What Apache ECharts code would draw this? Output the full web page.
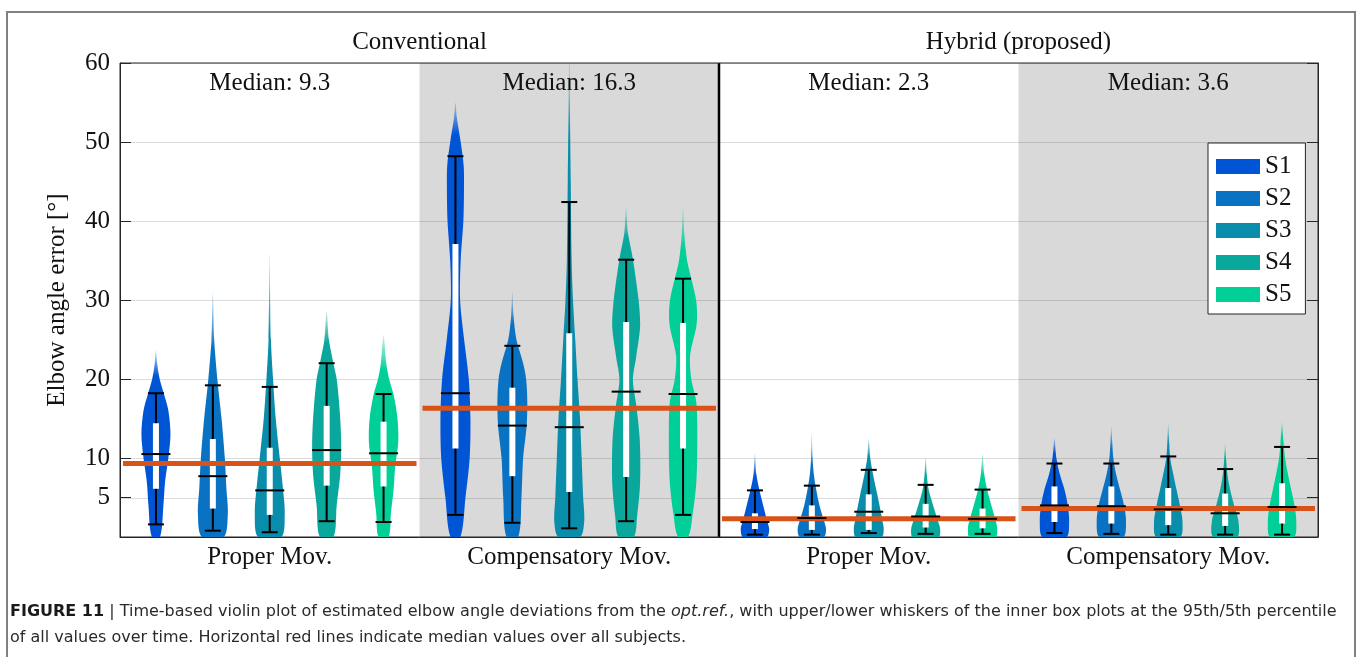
<!DOCTYPE html>
<html>
<head>
<meta charset="utf-8">
<title>Elbow angle error - violin plot</title>
<script src="https://cdn.jsdelivr.net/npm/echarts@6/dist/echarts.min.js"></script>
<style>html, body { margin: 0; padding: 0; background: #fff; }</style>
</head>
<body>
<div id="main" style="width:1358px;height:657px;"></div>
<script type="text/javascript">
// categories along x, and the two methods above them
var groups = ['Proper Mov.', 'Compensatory Mov.', 'Proper Mov.', 'Compensatory Mov.'];
var methods = ['Conventional', 'Hybrid (proposed)'];
var groupMedians = [9.3, 16.3, 2.3, 3.6];
var subjects = ['S1', 'S2', 'S3', 'S4', 'S5'];
var yTicks = [5, 10, 20, 30, 40, 50, 60];

// inner box plot per subject, one row per group: [p5, q1, median, q3, p95]
var statsS1 = [[1.6, 6.1, 10.5, 14.4, 18.2], [2.8, 11.2, 18.2, 37.1, 48.2], [0.3, 1.0, 1.9, 3.0, 5.9], [0.5, 1.9, 4.0, 6.4, 9.3]];
var statsS2 = [[0.8, 3.6, 7.7, 12.4, 19.2], [1.8, 7.7, 14.1, 18.9, 24.2], [0.3, 0.9, 2.4, 4.0, 6.5], [0.4, 1.7, 3.9, 6.4, 9.3]];
var statsS3 = [[0.6, 2.8, 5.9, 11.3, 19.0], [1.1, 5.7, 13.9, 25.8, 42.4], [0.5, 0.9, 3.2, 5.4, 8.5], [0.3, 1.5, 3.5, 6.2, 10.2]];
var statsS4 = [[2.0, 6.5, 11.0, 16.6, 22.0], [2.0, 7.6, 18.4, 27.2, 35.1], [0.4, 1.2, 2.6, 4.2, 6.6], [0.3, 1.4, 3.0, 5.5, 8.6]];
var statsS5 = [[1.9, 6.4, 10.6, 14.6, 18.1], [2.8, 11.2, 18.1, 27.1, 32.7], [0.4, 1.1, 2.3, 3.6, 6.0], [0.3, 1.7, 3.8, 6.8, 11.4]];

// violin outline per subject and group: [value, relative density]
var shapeS1 = [
    [[0, .27], [4, .5], [7, .61], [10, .83], [13, .97], [16, .83], [18, .55], [20, .25], [22, .08], [23.7, 0]],
    [[0, .33], [5, .67], [10, .95], [15, 1], [20, .89], [25, .58], [30, .31], [35, .35], [40, .53], [44, .57], [47, .55], [50, .35], [53, .1], [55, 0]],
    [[0, .8], [1, .95], [2, .82], [4, .55], [6, .29], [8, .09], [10.6, 0]],
    [[0, .8], [2, .98], [4, .89], [6, .67], [8, .35], [10, .13], [12.5, 0]]
];
var shapeS2 = [
    [[0, .73], [3, 1], [6, .91], [10, .8], [15, .58], [20, .3], [25, .09], [31, 0]],
    [[0, .39], [5, .61], [10, .72], [14, .95], [17, 1], [20, .92], [22, .72], [25, .27], [28, .08], [31, 0]],
    [[0, .8], [1, .95], [2, .82], [4, .51], [6, .29], [8, .13], [10, .05], [13.3, 0]],
    [[0, .8], [2, .98], [4, .85], [6, .58], [8, .31], [10, .13], [12, .06], [14, 0]]
];
var shapeS3 = [
    [[0, .78], [3, 1], [6, .89], [10, .67], [15, .4], [20, .22], [25, .08], [36, 0]],
    [[0, .72], [2, 1], [5, .93], [10, .83], [15, .72], [20, .55], [25, .4], [30, .25], [35, .16], [45, .1], [55, .04], [62, 0]],
    [[0, .87], [1, 1], [2, .92], [4, .72], [6, .5], [8, .28], [10, .1], [12.5, 0]],
    [[0, .8], [2, .95], [4, .78], [6, .55], [8, .33], [10, .13], [12, .06], [14.4, 0]]
];
var shapeS4 = [
    [[0, .45], [4, .67], [8, .91], [12, .97], [16, .87], [20, .67], [22, .45], [25, .15], [28.6, 0]],
    [[0, .5], [2.6, .73], [6.8, .93], [12.3, .91], [16.5, .69], [19.9, .45], [22.8, .67], [26.6, .93], [30, .83], [35.2, .45], [38.5, .12], [41.8, 0]],
    [[0, .87], [1, .97], [2, .83], [4, .5], [6, .2], [8, .07], [10.2, 0]],
    [[0, .8], [2, .89], [4, .6], [6, .33], [8, .15], [10, .06], [11.9, 0]]
];
var shapeS5 = [
    [[0, .33], [3, .49], [6, .67], [9, .78], [12, .98], [15, .93], [18, .67], [20, .37], [22, .18], [25.6, 0]],
    [[0, .33], [3, .65], [7, .89], [12, .95], [17, .89], [20, .55], [23, .47], [27, .91], [30, .87], [35, .27], [38.5, .08], [41.8, 0]],
    [[0, .87], [1, .98], [2, .89], [4, .59], [6, .3], [8, .11], [10.6, 0]],
    [[0, .8], [2, .95], [4, .83], [6, .61], [8, .39], [10, .2], [12, .1], [14.6, 0]]
];

var statsBySubject = [statsS1, statsS2, statsS3, statsS4, statsS5];
var shapesBySubject = [shapeS1, shapeS2, shapeS3, shapeS4, shapeS5];
var colors = ['#0055d4', '#0a72c2', '#0a8dab', '#0aa89c', '#00cf98'];
var SERIF = '"Liberation Serif", "DejaVu Serif", serif';
var SANS = '"DejaVu Sans", "Liberation Sans", sans-serif';

// x centre of one violin inside its group band
function violinX(api, gi, si) {
    var band = api.size([1, 0])[0];
    return api.coord([gi, 0])[0] + (si - 2) * 0.19 * band;
}

function fade(hex, a) {
    var n = parseInt(hex.slice(1), 16);
    return 'rgba(' + (n >> 16) + ',' + ((n >> 8) & 255) + ',' + (n & 255) + ',' + a + ')';
}

function violinSeries(si) {
    return {
        name: subjects[si],
        type: 'custom',
        clip: true,
        z: 2,
        itemStyle: { color: colors[si] },
        data: groups.map(function (g, gi) { return [gi].concat(statsBySubject[si][gi]); }),
        encode: { x: 0, y: [1, 2, 3, 4, 5] },
        renderItem: function (params, api) {
            var gi = api.value(0);
            var cx = violinX(api, gi, si);
            var hw = 0.05 * api.size([1, 0])[0];
            var prof = shapesBySubject[si][gi];
            var pts = [], k;
            for (k = 0; k < prof.length; k++) {
                pts.push([cx + prof[k][1] * hw, api.coord([gi, prof[k][0]])[1]]);
            }
            for (k = prof.length - 2; k >= 0; k--) {
                pts.push([cx - prof[k][1] * hw, api.coord([gi, prof[k][0]])[1]]);
            }
            var y5 = api.coord([gi, api.value(1)])[1];
            var yq1 = api.coord([gi, api.value(2)])[1];
            var yq3 = api.coord([gi, api.value(4)])[1];
            var y95 = api.coord([gi, api.value(5)])[1];
            var yTop = api.coord([gi, prof[prof.length - 1][0]])[1];
            var fill = new echarts.graphic.LinearGradient(0, y95, 0, yTop, [
                { offset: 0, color: colors[si] },
                { offset: 0.4, color: colors[si] },
                { offset: 1, color: fade(colors[si], 0.2) }
            ], true);
            return {
                type: 'group',
                children: [
                    { type: 'polygon', shape: { points: pts, smooth: 0.3 }, style: { fill: fill } },
                    { type: 'line', shape: { x1: cx, y1: y5, x2: cx, y2: y95 }, style: { stroke: '#000', lineWidth: 2 } },
                    { type: 'rect', shape: { x: cx - 3, y: yq3, width: 6, height: yq1 - yq3 }, style: { fill: '#fff' } }
                ]
            };
        }
    };
}

// whisker caps and median bars of all violins
var whiskerData = [];
statsBySubject.forEach(function (rows, si) {
    rows.forEach(function (r, gi) { whiskerData.push([gi, si, r[0], r[2], r[4]]); });
});

var series = subjects.map(function (s, si) { return violinSeries(si); });

// grey shading of the compensatory groups + divider between methods
series.push({
    type: 'custom',
    z: -3,
    silent: true,
    data: groups.map(function (g, gi) { return [gi]; }),
    encode: { x: 0 },
    renderItem: function (params, api) {
        var gi = api.value(0);
        var cs = params.coordSys;
        var band = api.size([1, 0])[0];
        var x0 = api.coord([gi, 0])[0] - band / 2;
        var kids = [];
        if (gi % 2 === 1) {
            kids.push({ type: 'rect', shape: { x: x0, y: cs.y, width: band, height: cs.height }, style: { fill: '#d9d9d9' } });
        }
        if (gi === groups.length / methods.length - 1) {
            kids.push({ type: 'line', z2: 5, shape: { x1: x0 + band, y1: cs.y, x2: x0 + band, y2: cs.y + cs.height }, style: { stroke: '#000', lineWidth: 2.5 } });
        }
        return { type: 'group', children: kids };
    }
});

// horizontal grid lines
series.push({
    type: 'custom',
    z: -2,
    silent: true,
    data: yTicks.map(function (v) { return [0, v]; }),
    encode: { x: 0, y: 1 },
    renderItem: function (params, api) {
        var cs = params.coordSys;
        var y = Math.round(api.coord([0, api.value(1)])[1]) + 0.5;
        return { type: 'line', shape: { x1: cs.x, y1: y, x2: cs.x + cs.width, y2: y }, style: { stroke: 'rgba(38,38,38,0.16)', lineWidth: 1 } };
    }
});

// red overall medians + labels
series.push({
    type: 'custom',
    z: 3,
    silent: true,
    data: groupMedians.map(function (m, gi) { return [gi, m]; }),
    encode: { x: 0, y: 1 },
    renderItem: function (params, api) {
        var gi = api.value(0);
        var band = api.size([1, 0])[0];
        var p = api.coord([gi, api.value(1)]);
        var top = api.coord([gi, 60])[1];
        return {
            type: 'group',
            children: [
                { type: 'rect', shape: { x: p[0] - band / 2 + 3, y: p[1] - 2.5, width: band - 6, height: 5 }, style: { fill: '#d95319' } },
                { type: 'text', style: { text: 'Median: ' + api.value(1), x: p[0], y: top + 20, align: 'center', verticalAlign: 'middle', font: '25px ' + SERIF, fill: '#111' } }
            ]
        };
    }
});

series.push({
    type: 'custom',
    z: 4,
    silent: true,
    data: whiskerData,
    encode: { x: 0, y: [2, 3, 4] },
    renderItem: function (params, api) {
        var gi = api.value(0), si = api.value(1);
        var cx = violinX(api, gi, si);
        var y5 = api.coord([gi, api.value(2)])[1];
        var ym = api.coord([gi, api.value(3)])[1];
        var y95 = api.coord([gi, api.value(4)])[1];
        var st = { stroke: '#000', lineWidth: 2 };
        return {
            type: 'group',
            children: [
                { type: 'line', shape: { x1: cx - 8, y1: y5, x2: cx + 8, y2: y5 }, style: st },
                { type: 'line', shape: { x1: cx - 8, y1: y95, x2: cx + 8, y2: y95 }, style: st },
                { type: 'line', shape: { x1: cx - 14.5, y1: ym, x2: cx + 14.5, y2: ym }, style: st }
            ]
        };
    }
});

var myChart = echarts.init(document.getElementById('main'));

var option = {
    animation: false,
    backgroundColor: '#fff',
    grid: { left: 120, right: 40, top: 63, bottom: 120, show: true, borderColor: '#262626', borderWidth: 1, backgroundColor: 'transparent' },
    legend: {
        data: subjects,
        orient: 'vertical',
        left: 1208,
        top: 143,
        icon: 'rect',
        itemWidth: 44,
        itemHeight: 15,
        itemGap: 7,
        padding: [11, 14, 7, 8],
        backgroundColor: '#fff',
        borderColor: '#262626',
        borderWidth: 1,
        borderRadius: 0,
        selectedMode: false,
        textStyle: { fontFamily: SERIF, fontSize: 25, color: '#111' }
    },
    xAxis: [{
        type: 'category',
        data: groups,
        axisLine: { lineStyle: { color: '#262626', width: 1 } },
        axisTick: { show: false },
        axisLabel: { interval: 0, margin: 8, fontFamily: SERIF, fontSize: 25, color: '#111' }
    }, {
        type: 'category',
        position: 'top',
        data: methods,
        axisLine: { show: false },
        axisTick: { show: false },
        axisLabel: { interval: 0, margin: 8, fontFamily: SERIF, fontSize: 25, color: '#111' }
    }],
    yAxis: [{
        type: 'value',
        min: 0,
        max: 60,
        interval: 5,
        name: 'Elbow angle error [°]',
        nameLocation: 'middle',
        nameGap: 50,
        nameTextStyle: { fontFamily: SERIF, fontSize: 25, color: '#111' },
        axisLine: { show: true, lineStyle: { color: '#262626' } },
        axisTick: { show: true, inside: true, length: 11, customValues: yTicks, lineStyle: { color: '#262626' } },
        axisLabel: { customValues: yTicks, margin: 10, fontFamily: SERIF, fontSize: 25, color: '#111' },
        splitLine: { show: false }
    }, {
        type: 'value',
        position: 'right',
        min: 0,
        max: 60,
        interval: 5,
        axisLine: { show: true, lineStyle: { color: '#262626' } },
        axisTick: { show: true, inside: true, length: 11, customValues: yTicks, lineStyle: { color: '#262626' } },
        axisLabel: { show: false },
        splitLine: { show: false }
    }],
    graphic: [
        { type: 'rect', silent: true, shape: { x: 7, y: 12, width: 1348, height: 700 }, style: { fill: 'none', stroke: '#808080', lineWidth: 2 } },
        {
            type: 'text', left: 10, top: 604,
            style: {
                text: '{b|FIGURE 11} | Time-based violin plot of estimated elbow angle deviations from the {i|opt.ref.}, with upper/lower whiskers of the inner box plots at the 95th/5th percentile',
                font: '16px ' + SANS, fill: '#2a2a2a',
                rich: { b: { fontWeight: 'bold', fontSize: 16, fontFamily: SANS, fill: '#1a1a1a' }, i: { fontStyle: 'italic', fontSize: 16, fontFamily: SANS } }
            }
        },
        { type: 'text', left: 10, top: 630, style: { text: 'of all values over time. Horizontal red lines indicate median values over all subjects.', font: '16px ' + SANS, fill: '#2a2a2a' } }
    ],
    series: series
};

myChart.setOption(option);
</script>
</body>
</html>
